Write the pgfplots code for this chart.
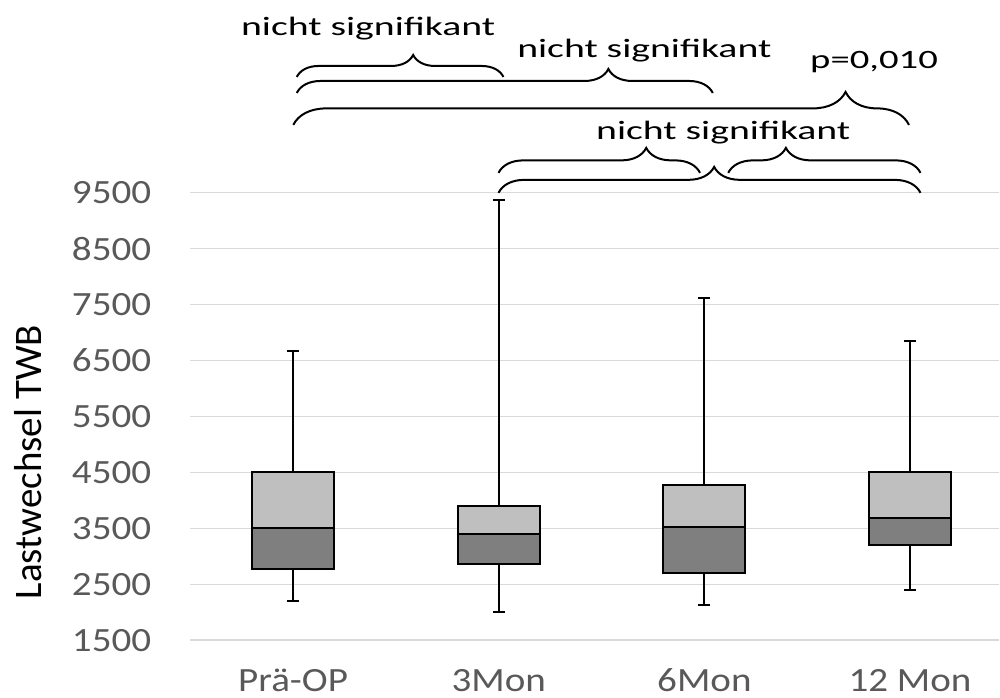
\documentclass[border=0pt]{standalone}
\usepackage{pgfplots}
\pgfplotsset{compat=1.18}
\usetikzlibrary{calc,decorations.pathreplacing}
\usepackage{graphicx}
\usepackage{fontspec}
\setmainfont{Carlito}
\definecolor{gridc}{HTML}{D9D9D9}
\definecolor{tickc}{HTML}{595959}
\definecolor{upperc}{HTML}{BFBFBF}
\definecolor{lowerc}{HTML}{7F7F7F}
\newcommand{\tl}[1]{\scalebox{1.15}[1]{#1}}
\begin{document}
\begin{tikzpicture}
\begin{axis}[
  scale only axis,
  width=404.8pt, height=224pt,
  xmin=-0.5, xmax=3.434,
  ymin=1500, ymax=9500,
  clip=false,
  axis line style={draw=none},
  tick style={draw=none},
  ytick={1500,2500,3500,4500,5500,6500,7500,8500,9500},
  yticklabels={\tl{1500},\tl{2500},\tl{3500},\tl{4500},\tl{5500},\tl{6500},\tl{7500},\tl{8500},\tl{9500}},
  xtick={0,1,2,3},
  xticklabels={\tl{Prä-OP},\tl{3Mon},\tl{6Mon},\tl{12 Mon}},
  tick label style={font=\fontsize{17}{19}\selectfont, color=tickc},
  yticklabel style={anchor=east, inner sep=0pt, xshift=-19.35pt},
  xticklabel style={anchor=base, inner sep=0pt, yshift=-25.65pt},
  ymajorgrids, xmajorgrids=false,
  grid style={gridc, line width=0.75pt},
  ylabel={Lastwechsel TWB},
  ylabel style={font=\fontsize{19.5}{22}\selectfont, at={(axis description cs:-0.1833,0.398)}, anchor=base},
]
% whiskers: lower (min to Q1) and upper (Q3 to max)
\addplot[black, line width=1pt] coordinates {(0,2210) (0,2780)};
\addplot[black, line width=1pt] coordinates {(0,4500) (0,6660)};
\addplot[black, line width=1pt] coordinates {(1,2000) (1,2860)};
\addplot[black, line width=1pt] coordinates {(1,3890) (1,9360)};
\addplot[black, line width=1pt] coordinates {(2,2130) (2,2710)};
\addplot[black, line width=1pt] coordinates {(2,4280) (2,7610)};
\addplot[black, line width=1pt] coordinates {(3,2390) (3,3210)};
\addplot[black, line width=1pt] coordinates {(3,4500) (3,6850)};
% whisker caps
\addplot[black, line width=1pt] coordinates {(-0.029,2210) (0.029,2210)};
\addplot[black, line width=1pt] coordinates {(-0.029,6660) (0.029,6660)};
\addplot[black, line width=1pt] coordinates {(0.971,2000) (1.029,2000)};
\addplot[black, line width=1pt] coordinates {(0.971,9360) (1.029,9360)};
\addplot[black, line width=1pt] coordinates {(1.971,2130) (2.029,2130)};
\addplot[black, line width=1pt] coordinates {(1.971,7610) (2.029,7610)};
\addplot[black, line width=1pt] coordinates {(2.971,2390) (3.029,2390)};
\addplot[black, line width=1pt] coordinates {(2.971,6850) (3.029,6850)};
% upper box part (median to Q3)
\addplot[draw=black, fill=upperc, line width=1pt] coordinates {(-0.199,3500) (0.199,3500) (0.199,4500) (-0.199,4500)} -- cycle;
\addplot[draw=black, fill=upperc, line width=1pt] coordinates {(0.801,3400) (1.199,3400) (1.199,3890) (0.801,3890)} -- cycle;
\addplot[draw=black, fill=upperc, line width=1pt] coordinates {(1.801,3520) (2.199,3520) (2.199,4280) (1.801,4280)} -- cycle;
\addplot[draw=black, fill=upperc, line width=1pt] coordinates {(2.801,3690) (3.199,3690) (3.199,4500) (2.801,4500)} -- cycle;
% lower box part (Q1 to median)
\addplot[draw=black, fill=lowerc, line width=1pt] coordinates {(-0.199,2780) (0.199,2780) (0.199,3500) (-0.199,3500)} -- cycle;
\addplot[draw=black, fill=lowerc, line width=1pt] coordinates {(0.801,2860) (1.199,2860) (1.199,3400) (0.801,3400)} -- cycle;
\addplot[draw=black, fill=lowerc, line width=1pt] coordinates {(1.801,2710) (2.199,2710) (2.199,3520) (1.801,3520)} -- cycle;
\addplot[draw=black, fill=lowerc, line width=1pt] coordinates {(2.801,3210) (3.199,3210) (3.199,3690) (2.801,3690)} -- cycle;

\coordinate (O) at (rel axis cs:0,0);
\coordinate (A1) at (axis cs:0.018,11566); \coordinate (A2) at (axis cs:1.023,11566);
\coordinate (B1) at (axis cs:0.018,11280); \coordinate (B2) at (axis cs:2.041,11280);
\coordinate (C1) at (axis cs:0.001,10709); \coordinate (C2) at (axis cs:2.995,10709);
\coordinate (D1) at (axis cs:0.999,9852);  \coordinate (D2) at (axis cs:1.979,9852);
\coordinate (E1) at (axis cs:2.116,9852);  \coordinate (E2) at (axis cs:3.051,9852);
\coordinate (F1) at (axis cs:0.999,9495);  \coordinate (F2) at (axis cs:3.051,9495);
\coordinate (T1) at (axis cs:0.365,12298);
\coordinate (T2) at (axis cs:1.708,11905);
\coordinate (T3) at (axis cs:2.825,11721);
\coordinate (T4) at (axis cs:2.092,10441);
\end{axis}
\draw[line width=1pt, decorate, decoration={brace, amplitude=11pt, aspect=0.563}] (A1) -- (A2);
\draw[line width=1pt, decorate, decoration={brace, amplitude=12pt, aspect=0.749}] (B1) -- (B2);
\draw[line width=1pt, decorate, decoration={brace, amplitude=16.5pt, aspect=0.897}] (C1) -- (C2);
\draw[line width=1pt, decorate, decoration={brace, amplitude=12.5pt, aspect=0.733}] (D1) -- (D2);
\draw[line width=1pt, decorate, decoration={brace, amplitude=12.5pt, aspect=0.30}] (E1) -- (E2);
\draw[line width=1pt, decorate, decoration={brace, amplitude=13pt, aspect=0.511}] (F1) -- (F2);
\node[anchor=base, inner sep=0pt, font=\fontsize{13.25}{15}\selectfont] at (T1) {\scalebox{1.5}[1]{nicht signifikant}};
\node[anchor=base, inner sep=0pt, font=\fontsize{13.25}{15}\selectfont] at (T2) {\scalebox{1.5}[1]{nicht signifikant}};
\node[anchor=base, inner sep=0pt, font=\fontsize{13.25}{15}\selectfont] at (T3) {\scalebox{1.46}[1]{p=0,010}};
\node[anchor=base, inner sep=0pt, font=\fontsize{13.25}{15}\selectfont] at (T4) {\scalebox{1.5}[1]{nicht signifikant}};
\path[use as bounding box] ($(O)+(-95.2pt,-28.65pt)$) rectangle ($(O)+(404.8pt,320.35pt)$);
\end{tikzpicture}
\end{document}
